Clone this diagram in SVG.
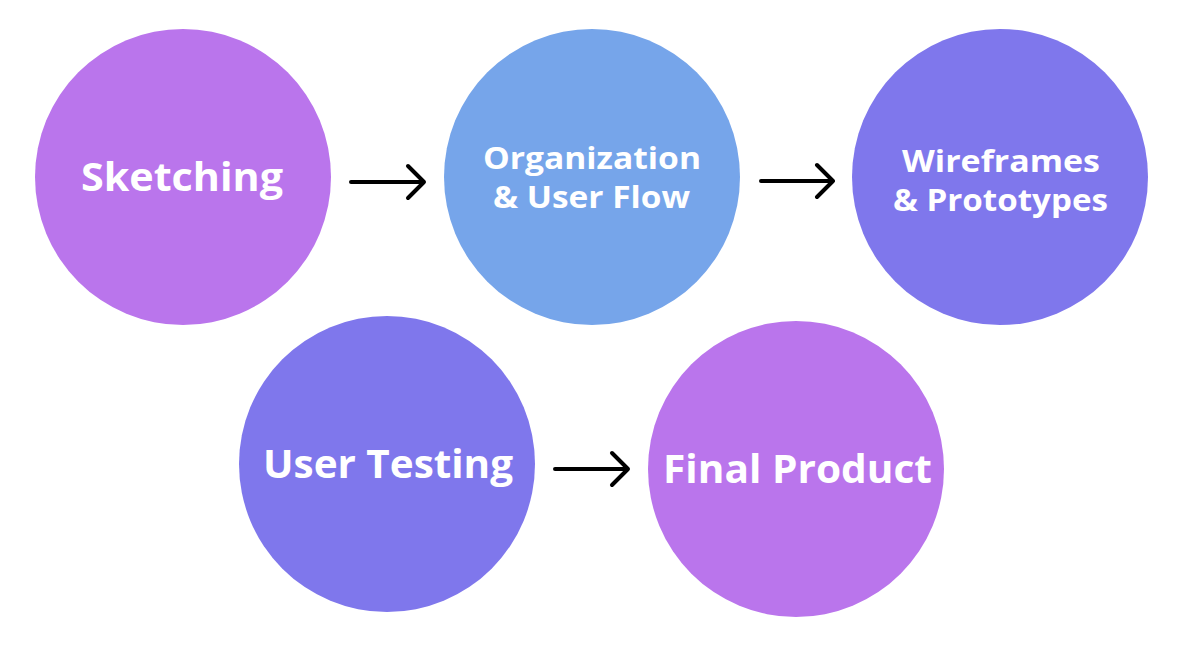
<svg xmlns="http://www.w3.org/2000/svg" width="1184" height="646" viewBox="0 0 1184 646">
<defs>
<style>
.lbl{font-family:"Open Sans","Noto Sans","Liberation Sans",sans-serif;font-weight:700;fill:#ffffff;text-anchor:middle}
.big{font-size:40px}
.sm{font-size:30px}
.arr{fill:none;stroke:#000000;stroke-width:4;stroke-linecap:round;stroke-linejoin:round}
.purple{fill:#BA75EC}
.blue{fill:#76A5EA}
.indigo{fill:#7F77EC}
</style>
</defs>
<rect width="1184" height="646" fill="#ffffff"/>
<g id="sketching">
<circle class="purple" cx="183" cy="177" r="148"/>
<text class="lbl big" x="182" y="191" textLength="202" lengthAdjust="spacingAndGlyphs">Sketching</text>
</g>
<g id="organization">
<circle class="blue" cx="592" cy="177" r="148"/>
<text class="lbl sm" x="592" y="169" textLength="218" lengthAdjust="spacingAndGlyphs">Organization</text>
<text class="lbl sm" x="591.5" y="208" textLength="197" lengthAdjust="spacingAndGlyphs">&amp; User Flow</text>
</g>
<g id="wireframes">
<circle class="indigo" cx="1000" cy="177" r="148"/>
<text class="lbl sm" x="1001" y="172" textLength="198" lengthAdjust="spacingAndGlyphs">Wireframes</text>
<text class="lbl sm" x="1000.5" y="211" textLength="215" lengthAdjust="spacingAndGlyphs">&amp; Prototypes</text>
</g>
<g id="user-testing">
<circle class="indigo" cx="387" cy="464" r="148"/>
<text class="lbl big" x="388" y="478" textLength="250" lengthAdjust="spacingAndGlyphs">User Testing</text>
</g>
<g id="final-product">
<circle class="purple" cx="796" cy="469" r="148"/>
<text class="lbl big" x="797.5" y="483" textLength="269" lengthAdjust="spacingAndGlyphs">Final Product</text>
</g>
<g id="connectors">
<path class="arr" d="M351 182H424M408 166L424 182L408 198"/>
<path class="arr" d="M761 181H833M817 165L833 181L817 197"/>
<path class="arr" d="M555 469H628M612 453L628 469L612 485"/>
</g>
</svg>
